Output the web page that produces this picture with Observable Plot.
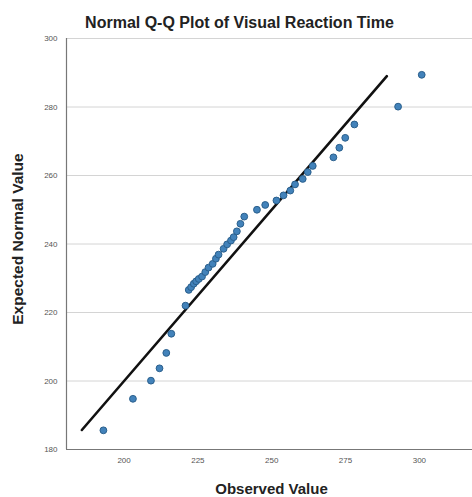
<!DOCTYPE html>
<html>
<head>
<meta charset="utf-8">
<script src="https://cdn.jsdelivr.net/npm/d3@7"></script>
<script src="https://cdn.jsdelivr.net/npm/@observablehq/plot@0.6"></script>
<style>
  html, body { margin: 0; padding: 0; background: #fff; }
  #chart svg { display: block; }
</style>
</head>
<body>
<div id="chart"></div>
<script>
const observed = [193.0, 203.0, 209.1, 212.0, 214.3, 216.0, 220.8, 221.9, 222.7, 223.6,
  224.4, 225.3, 226.4, 227.5, 228.6, 230.0, 231.1, 232.0, 233.7, 234.9,
  236.2, 237.1, 238.2, 239.4, 240.7, 245.0, 247.8, 251.6, 254.0, 256.3,
  257.9, 260.5, 262.2, 263.9, 270.9, 272.9, 274.9, 278.0, 292.8, 300.8];
const expected = [185.6, 194.8, 200.1, 203.7, 208.2, 213.8, 222.0, 226.6, 227.4, 228.4,
  229.1, 229.8, 230.5, 231.8, 233.1, 234.2, 235.7, 236.9, 238.6, 239.9,
  241.0, 242.0, 243.7, 245.9, 248.0, 250.0, 251.4, 252.7, 254.2, 255.6,
  257.4, 259.0, 261.0, 262.8, 265.3, 268.1, 271.0, 274.9, 280.1, 289.4];
const refLine = [185.7, 289.0];
const xTicks = [200, 225, 250, 275, 300];
const yTicks = [180, 200, 220, 240, 260, 280, 300];
const titleText = "Normal Q-Q Plot of Visual Reaction Time";
const xLabel = "Observed Value";
const yLabel = "Expected Normal Value";

const points = observed.map((x, i) => ({x, y: expected[i]}));
const linePts = refLine.map(v => ({x: v, y: v}));

const chart = Plot.plot({
  width: 472,
  height: 497,
  marginTop: 38,
  marginBottom: 48,
  marginLeft: 66,
  marginRight: 0,
  style: {fontFamily: "Liberation Sans, Arial, sans-serif", background: "#fff"},
  x: {domain: [180.5, 318], ticks: xTicks},
  y: {domain: [180, 300], ticks: yTicks},
  marks: [
    Plot.gridY(yTicks.filter(d => d > 180), {stroke: "#d4d4d4", strokeOpacity: 1, strokeWidth: 1}),
    Plot.axisX(xTicks, {tickSize: 0, tickPadding: 8, fontSize: 8, fill: "#555", label: null}),
    Plot.axisY(yTicks, {tickSize: 0, tickPadding: 9, fontSize: 8, fill: "#555", label: null}),
    Plot.ruleY([180], {stroke: "#777", strokeWidth: 1.2}),
    Plot.ruleX([180.5], {stroke: "#777", strokeWidth: 1.2}),
    Plot.line(linePts, {x: "x", y: "y", stroke: "#111", strokeWidth: 2.6}),
    Plot.dot(points, {x: "x", y: "y", r: 3.4, fill: "#4282ba", stroke: "#2a5f8c", strokeWidth: 1}),
    Plot.text([titleText], {frameAnchor: "top", dx: -30, dy: -22, fontSize: 16, fontWeight: "bold", fill: "#222", text: d => d}),
    Plot.text([xLabel], {frameAnchor: "bottom", dx: 2, dy: 44, fontSize: 15, fontWeight: "bold", fill: "#222", text: d => d}),
    Plot.text([yLabel], {frameAnchor: "left", textAnchor: "middle", dx: -48, dy: -5, rotate: -90, fontSize: 15.5, fontWeight: "bold", fill: "#222", text: d => d})
  ]
});
document.getElementById("chart").appendChild(chart);
</script>
</body>
</html>
